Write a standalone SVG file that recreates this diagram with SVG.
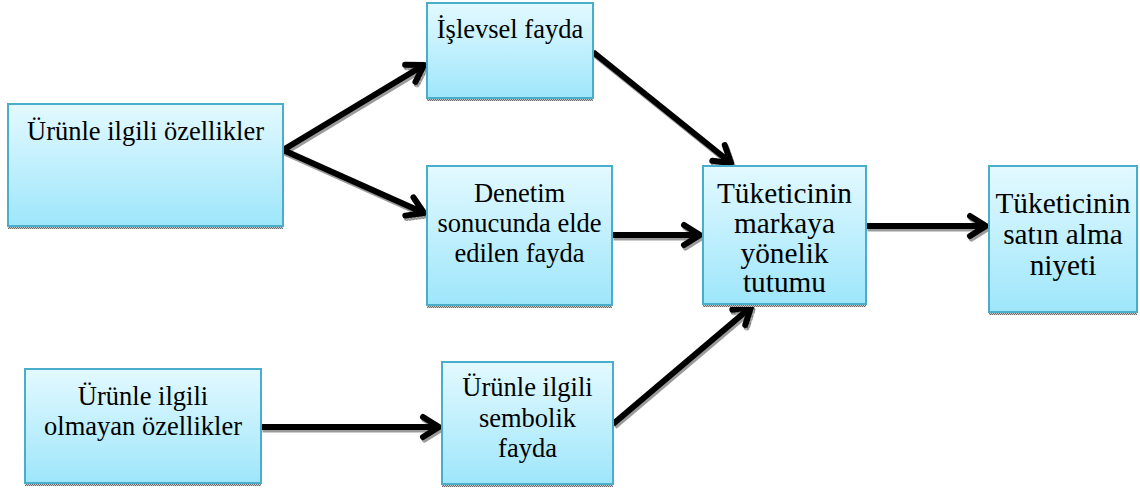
<svg xmlns="http://www.w3.org/2000/svg" width="1140" height="493" viewBox="0 0 1140 493">
  <defs>
    <linearGradient id="boxFill" x1="0" y1="0" x2="0" y2="1">
      <stop offset="0" stop-color="#e3f9ff"/>
      <stop offset="1" stop-color="#9ee6fb"/>
    </linearGradient>
    <pattern id="dots" width="2" height="2" patternUnits="userSpaceOnUse">
      <rect width="2" height="2" fill="#c8c8c8"/>
      <rect width="1" height="1" fill="#6e6e6e"/>
      <rect x="1" y="1" width="1" height="1" fill="#6e6e6e"/>
    </pattern>
    <marker id="head" markerUnits="userSpaceOnUse" markerWidth="30" markerHeight="30" viewBox="-20 -15 30 30" refX="0" refY="0" orient="auto">
      <path d="M -16 -10 L 0 0 L -16 10" fill="none" stroke="#000" stroke-width="6" stroke-linecap="round" stroke-linejoin="round"/>
    </marker>
    <marker id="headShadow" markerUnits="userSpaceOnUse" markerWidth="30" markerHeight="30" viewBox="-20 -15 30 30" refX="0" refY="0" orient="auto">
      <path d="M -16 -10 L 0 0 L -16 10" fill="none" stroke="url(#dots)" stroke-width="6" stroke-linecap="round" stroke-linejoin="round"/>
    </marker>
  </defs>
  <style>
    .box { fill: url(#boxFill); stroke: #4aaecb; stroke-width: 2; }
    .shadow { fill: url(#dots); }
    .label { font-family: "Liberation Serif", "Times New Roman", serif; font-size: 26.5px; fill: #000; text-anchor: middle; }
    .big { font-size: 29.3px; }
    .link { fill: none; stroke: #000; stroke-width: 6; marker-end: url(#head); }
    .linkShadow { fill: none; stroke: url(#dots); stroke-width: 6; marker-end: url(#headShadow); }
  </style>

  <rect width="1140" height="493" fill="#ffffff"/>

  <!-- connectors -->
  <g id="connectors">
    <g transform="translate(1.5,2.5)">
      <line class="linkShadow" x1="283" y1="150" x2="424" y2="65"/>
      <line class="linkShadow" x1="283" y1="150" x2="424" y2="213"/>
      <line class="linkShadow" x1="593" y1="52" x2="731" y2="163"/>
      <line class="linkShadow" x1="612" y1="235" x2="700" y2="235"/>
      <line class="linkShadow" x1="866" y1="226" x2="986" y2="226"/>
      <line class="linkShadow" x1="261" y1="427" x2="439" y2="427"/>
      <line class="linkShadow" x1="613" y1="424" x2="751" y2="307"/>
    </g>
    <line class="link" x1="283" y1="150" x2="424" y2="65"/>
    <line class="link" x1="283" y1="150" x2="424" y2="213"/>
    <line class="link" x1="593" y1="52" x2="731" y2="163"/>
    <line class="link" x1="612" y1="235" x2="700" y2="235"/>
    <line class="link" x1="866" y1="226" x2="986" y2="226"/>
    <line class="link" x1="261" y1="427" x2="439" y2="427"/>
    <line class="link" x1="613" y1="424" x2="751" y2="307"/>
  </g>

  <!-- nodes -->
  <g id="urun-ozellik">
    <rect class="shadow" x="8" y="226" width="275" height="3"/>
    <rect class="box" x="8" y="104" width="275" height="122"/>
    <text class="label" x="145.5" y="140">Ürünle ilgili özellikler</text>
  </g>

  <g id="islevsel-fayda">
    <rect class="shadow" x="427" y="98" width="166" height="3"/>
    <rect class="box" x="427" y="3" width="166" height="95"/>
    <text class="label" x="510" y="38">İşlevsel fayda</text>
  </g>

  <g id="denetim-fayda">
    <rect class="shadow" x="427" y="305" width="185" height="3"/>
    <rect class="box" x="427" y="166" width="185" height="139"/>
    <text class="label" x="519.5" y="202">Denetim</text>
    <text class="label" x="519.5" y="232">sonucunda elde</text>
    <text class="label" x="519.5" y="262">edilen fayda</text>
  </g>

  <g id="marka-tutumu">
    <rect class="shadow" x="703" y="304" width="163" height="3"/>
    <rect class="box" x="703" y="166" width="163" height="138"/>
    <text class="label big" x="784.5" y="203">Tüketicinin</text>
    <text class="label big" x="784.5" y="233">markaya</text>
    <text class="label big" x="784.5" y="263">yönelik</text>
    <text class="label big" x="784.5" y="292">tutumu</text>
  </g>

  <g id="satin-alma-niyeti">
    <rect class="shadow" x="989" y="312" width="148" height="3"/>
    <rect class="box" x="989" y="166" width="148" height="146"/>
    <text class="label big" x="1063" y="213">Tüketicinin</text>
    <text class="label big" x="1063" y="244">satın alma</text>
    <text class="label big" x="1063" y="275">niyeti</text>
  </g>

  <g id="urun-disi-ozellik">
    <rect class="shadow" x="25" y="483" width="236" height="3"/>
    <rect class="box" x="25" y="369" width="236" height="114"/>
    <text class="label" x="143" y="405">Ürünle ilgili</text>
    <text class="label" x="143" y="435">olmayan özellikler</text>
  </g>

  <g id="sembolik-fayda">
    <rect class="shadow" x="442" y="484" width="171" height="3"/>
    <rect class="box" x="442" y="362" width="171" height="122"/>
    <text class="label" x="527.5" y="396">Ürünle ilgili</text>
    <text class="label" x="527.5" y="427">sembolik</text>
    <text class="label" x="527.5" y="457">fayda</text>
  </g>
</svg>
